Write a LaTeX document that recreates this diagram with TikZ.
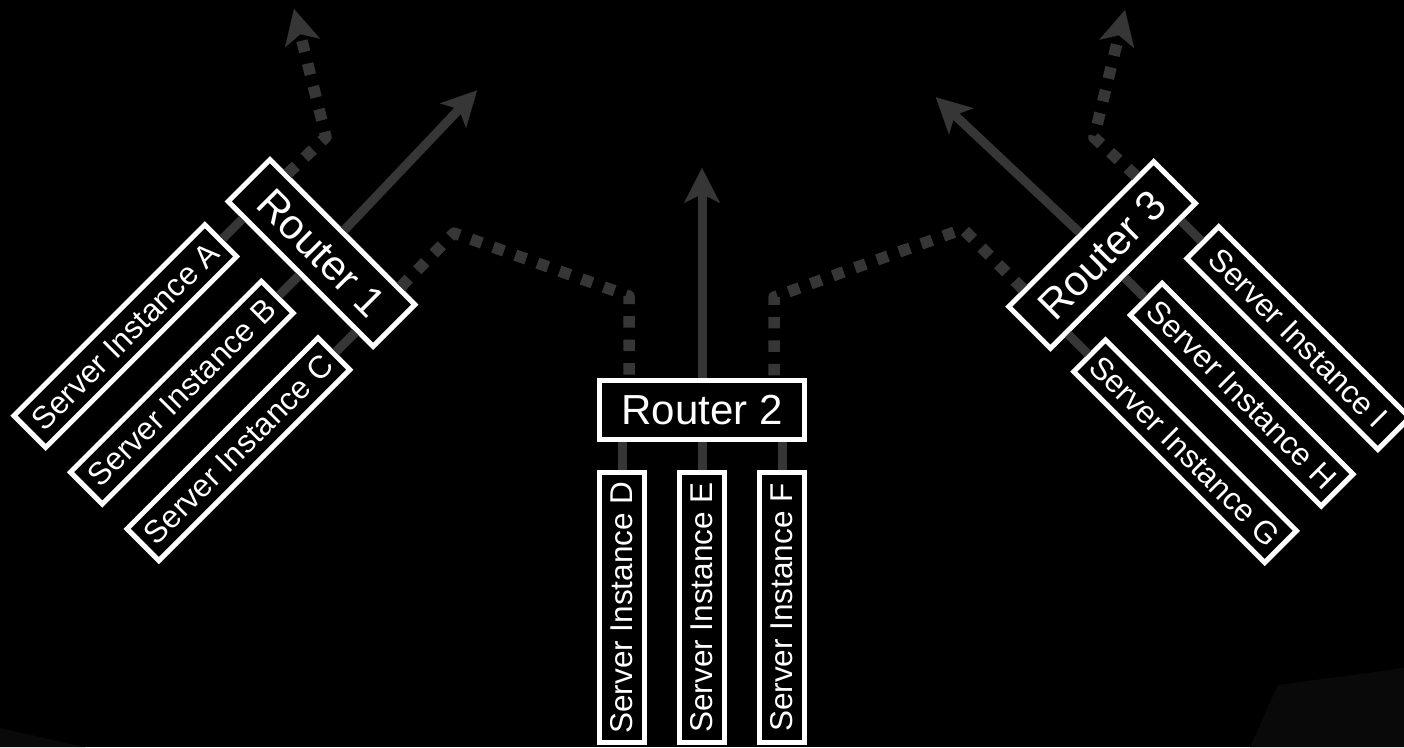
\documentclass[tikz,border=0pt]{standalone}
\usepackage{fontspec}
\setmainfont{Liberation Sans}
\usetikzlibrary{arrows.meta}
\definecolor{linegray}{HTML}{363636}
\definecolor{faint}{HTML}{090909}
\begin{document}
\begin{tikzpicture}[x=1pt,y=-1pt,
  router/.style={draw=white, line width=5pt, fill=black, text=white,
    minimum width=205pt, minimum height=59pt, inner sep=0pt,
    font=\fontsize{42}{42}\selectfont},
  server/.style={draw=white, line width=5pt, fill=black, text=white,
    minimum width=270pt, minimum height=45pt, inner sep=0pt,
    font=\fontsize{31.5}{31.5}\selectfont},
  link/.style={draw=linegray, line width=9pt},
  tipstyle/.style={-{Stealth[length=35pt,width=36pt,inset=9pt,line width=0.1pt]}},
  flow/.style={link, tipstyle},
  dotline/.style={draw=linegray, line width=11.5pt, dash pattern=on 11.5pt off 12pt,
    line join=round},
  dotflow/.style={dotline, tipstyle},
]
\fill[black] (0,0) rectangle (1404,747);
\useasboundingbox (0,0) rectangle (1404,747);
\fill[faint] (1278,685) -- (1404,668) -- (1404,747) -- (1250,747) -- cycle;
\fill[faint] (0,728) -- (85,747) -- (0,747) -- cycle;

% ---- group 2 (centre) ----
\begin{scope}[shift={(702,410)}]
  \node[router] (R2) at (0,0) {Router 2};
  \node[server, rotate=90] (D) at (-80,197.5) {Server Instance D};
  \node[server, rotate=90] (E) at (0,197.5) {Server Instance E};
  \node[server, rotate=90] (F) at (80,197.5) {Server Instance F};
  \coordinate (R2d) at (-80,32);
  \coordinate (R2f) at (80,32);
  \coordinate (R2l) at (-73,-32);
  \coordinate (R2r) at (72,-32);
  \coordinate (T2) at (0,-242);
\end{scope}

% ---- group 1 (left) ----
\begin{scope}[shift={(321.5,253)}, rotate=-45, transform shape]
  \node[router] (R1) at (0,0) {Router 1};
  \node[server, rotate=90] (A) at (-80,197.5) {Server Instance A};
  \node[server, rotate=90] (B) at (0,197.5) {Server Instance B};
  \node[server, rotate=90] (C) at (80,197.5) {Server Instance C};
  \coordinate (R1a) at (-80,32);
  \coordinate (R1c) at (80,32);
  \coordinate (R1up) at (-80,-32);
  \coordinate (R1rt) at (80,-32);
  \coordinate (T1) at (-5,-225);
\end{scope}

% ---- group 3 (right) ----
\begin{scope}[shift={(1102,255)}, rotate=45, transform shape]
  \node[router] (R3) at (0,0) {Router 3};
  \node[server, rotate=-90] (G) at (-80,197.5) {Server Instance G};
  \node[server, rotate=-90] (H) at (0,197.5) {Server Instance H};
  \node[server, rotate=-90] (I) at (80,197.5) {Server Instance I};
  \coordinate (R3g) at (-80,32);
  \coordinate (R3i) at (80,32);
  \coordinate (R3lt) at (-80,-32);
  \coordinate (R3up) at (80,-32);
  \coordinate (T3) at (-6,-229);
\end{scope}

% free ends of the dotted arrows
\coordinate (U1) at (294,9);
\coordinate (U3) at (1125,10);

% ---- server to router links ----
\draw[link] (D.east) -- (R2d);
\draw[link] (E.east) -- (R2.south);
\draw[link] (F.east) -- (R2f);
\draw[link] (A.east) -- (R1a);
\draw[link] (B.east) -- (R1.south);
\draw[link] (C.east) -- (R1c);
\draw[link] (G.west) -- (R3g);
\draw[link] (H.west) -- (R3.south);
\draw[link] (I.west) -- (R3i);

% ---- solid arrows ----
\draw[flow] (R2.north) -- (T2);
\draw[flow] (R1.north) -- (T1);
\draw[flow] (R3.north) -- (T3);

% ---- dotted paths ----
\draw[dotflow] (R1up) -- (326,137) -- (U1);
\draw[dotflow] (R3up) -- (1094,137.5) -- (U3);
\draw[dotline] (R1rt) -- (454,233) -- (629,296) -- (R2l);
\draw[dotline] (R3lt) -- (963,229) -- (774,297) -- (R2r);
\end{tikzpicture}
\end{document}
